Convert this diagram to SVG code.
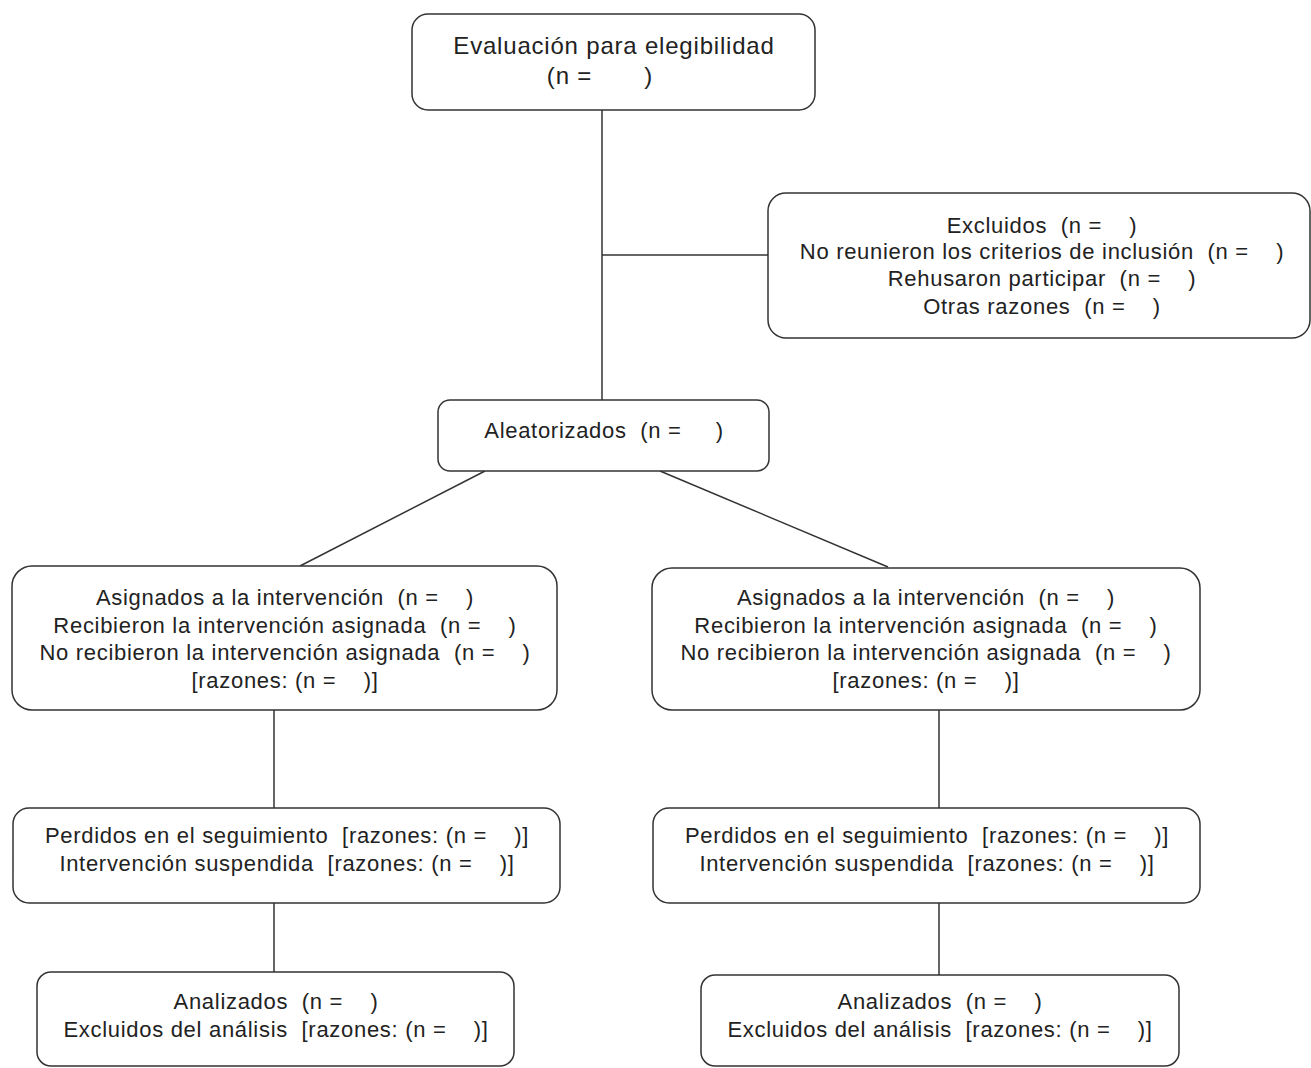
<svg xmlns="http://www.w3.org/2000/svg" width="1311" height="1068" viewBox="0 0 1311 1068">
<style>
.box{fill:#fff;stroke:#333;stroke-width:1.5}
.t{font-family:"Liberation Sans",Arial,sans-serif;font-size:22px;letter-spacing:0.7px;fill:#222;text-anchor:middle;white-space:pre}
.h{font-size:24px;letter-spacing:0.8px}
.c{stroke:#333;stroke-width:1.5;fill:none}
</style>
<rect width="1311" height="1068" fill="#fff"/>
<g id="connectors">
<line class="c" x1="602" y1="110" x2="602" y2="400"/>
<line class="c" x1="602" y1="255" x2="768" y2="255"/>
<line class="c" x1="485" y1="471" x2="300" y2="566"/>
<line class="c" x1="660" y1="471" x2="888" y2="567"/>
<line class="c" x1="274" y1="710" x2="274" y2="808"/>
<line class="c" x1="939" y1="710" x2="939" y2="808"/>
<line class="c" x1="274" y1="903" x2="274" y2="972"/>
<line class="c" x1="939" y1="903" x2="939" y2="975"/>
</g>
<g id="n-evaluacion">
<rect class="box" x="412" y="14" width="403" height="96" rx="16"/>
<text class="t h" x="614" y="54">Evaluación para elegibilidad</text>
<text class="t h" x="600" y="84">(n =       )</text>
</g>
<g id="n-excluidos">
<rect class="box" x="768" y="193" width="542" height="145" rx="18"/>
<text class="t" x="1042" y="233">Excluidos  (n =    )</text>
<text class="t" x="1042" y="259">No reunieron los criterios de inclusión  (n =    )</text>
<text class="t" x="1042" y="286">Rehusaron participar  (n =    )</text>
<text class="t" x="1042" y="314">Otras razones  (n =    )</text>
</g>
<g id="n-aleatorizados">
<rect class="box" x="438" y="400" width="331" height="71" rx="12"/>
<text class="t" x="604" y="438">Aleatorizados  (n =     )</text>
</g>
<g id="n-asignados-izq">
<rect class="box" x="12" y="566" width="545" height="144" rx="20"/>
<text class="t" x="285" y="605">Asignados a la intervención  (n =    )</text>
<text class="t" x="285" y="633">Recibieron la intervención asignada  (n =    )</text>
<text class="t" x="285" y="660">No recibieron la intervención asignada  (n =    )</text>
<text class="t" x="285" y="688">[razones: (n =    )]</text>
</g>
<g id="n-asignados-der">
<rect class="box" x="652" y="568" width="548" height="142" rx="20"/>
<text class="t" x="926" y="605">Asignados a la intervención  (n =    )</text>
<text class="t" x="926" y="633">Recibieron la intervención asignada  (n =    )</text>
<text class="t" x="926" y="660">No recibieron la intervención asignada  (n =    )</text>
<text class="t" x="926" y="688">[razones: (n =    )]</text>
</g>
<g id="n-perdidos-izq">
<rect class="box" x="13" y="808" width="547" height="95" rx="16"/>
<text class="t" x="287" y="843">Perdidos en el seguimiento  [razones: (n =    )]</text>
<text class="t" x="287" y="871">Intervención suspendida  [razones: (n =    )]</text>
</g>
<g id="n-perdidos-der">
<rect class="box" x="653" y="808" width="547" height="95" rx="16"/>
<text class="t" x="927" y="843">Perdidos en el seguimiento  [razones: (n =    )]</text>
<text class="t" x="927" y="871">Intervención suspendida  [razones: (n =    )]</text>
</g>
<g id="n-analizados-izq">
<rect class="box" x="37" y="972" width="477" height="94" rx="14"/>
<text class="t" x="276" y="1009">Analizados  (n =    )</text>
<text class="t" x="276" y="1037">Excluidos del análisis  [razones: (n =    )]</text>
</g>
<g id="n-analizados-der">
<rect class="box" x="701" y="975" width="478" height="91" rx="14"/>
<text class="t" x="940" y="1009">Analizados  (n =    )</text>
<text class="t" x="940" y="1037">Excluidos del análisis  [razones: (n =    )]</text>
</g>
</svg>
